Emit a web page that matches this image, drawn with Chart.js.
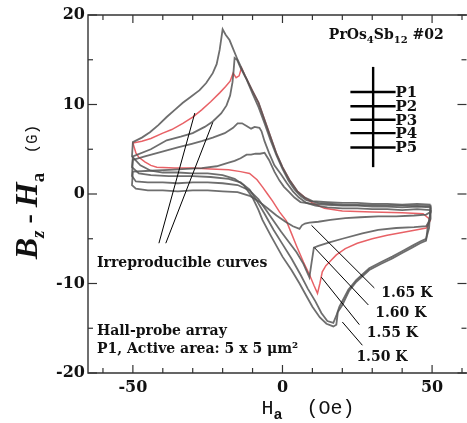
<!DOCTYPE html>
<html>
<head>
<meta charset="utf-8">
<script src="https://cdn.jsdelivr.net/npm/chart.js@4.4.0/dist/chart.umd.min.js"></script>
<style>
html, body { margin: 0; padding: 0; background: #fff; }
.chart-container { position: relative; width: 467px; height: 423px; }
</style>
</head>
<body>
<div class="chart-container"><canvas id="hallChart"></canvas></div>
<script>
// Hall-probe signal loops, [Ha (Oe), Bz - Ha (G)]
const loop150 = [
  [49.5,-1.2],[45,-1.1],[40,-1.2],[35,-1.1],[30,-1.1],[25,-1.0],[20,-1.0],[15,-0.9],[10,-0.8],
  [7.5,-0.4],[5,0.3],[2.3,1.6],[0,3.0],[-2,4.5],[-4,6.4],[-6,8.3],[-8,10.2],[-10,11.5],
  [-12.5,13.2],[-15,15.0],[-17.7,17.2],[-19,17.8],[-20,18.4],[-21,16.1],[-22,14.5],[-23.3,13.5],
  [-25.5,12.4],[-27.7,11.6],[-30.5,10.9],[-33.3,10.2],[-36,9.4],[-38.7,8.6],[-41.5,7.7],
  [-44.3,6.9],[-47,6.3],[-50,5.8],[-50.3,4.2],[-47.5,3.2],[-44,2.6],[-40,2.4],[-35,2.4],
  [-30,2.3],[-25,2.3],[-20,2.1],[-16,1.7],[-13,1.0],[-10,-0.4],[-8,-1.8],[-6.7,-2.9],
  [-4,-4.6],[-2,-5.8],[0,-7.0],[3,-8.5],[5.7,-10.0],[8,-11.4],[10,-12.6],[12.5,-13.8],
  [14.7,-14.5],[17,-14.8],[18,-14.6],[18.5,-13.2],[20,-12.4],[22.3,-10.8],[24.7,-9.8],
  [29,-8.5],[33,-7.8],[36.7,-7.2],[40,-6.6],[43.3,-6.0],[46,-5.5],[48,-5.2],[48.5,-3.8],
  [49.5,-2.0],[49.5,-1.2]
];
const loop155 = [
  [49.5,-2.9],[47,-2.2],[40,-2.1],[30,-2.0],[20,-1.9],[14,-1.6],[10,-1.0],[7.5,-0.4],
  [5,0.3],[2.3,1.6],[0,3.0],[-2,4.5],[-4,6.4],[-6,8.3],[-8,10.2],[-10,11.5],[-12.5,13.2],
  [-13.7,14.1],[-14.5,13.2],[-15.5,13.0],[-16.5,13.5],[-17.5,12.6],[-19,12.0],[-21,11.3],
  [-24,10.3],[-27,9.4],[-30,8.6],[-33.3,7.9],[-37,7.2],[-40,6.8],[-44,6.2],[-47,5.9],
  [-50,5.7],[-49,4.6],[-48,4.1],[-46,3.6],[-44,3.2],[-42,3.0],[-36,2.9],[-30,2.9],
  [-24,2.8],[-18,2.7],[-14,2.5],[-11,2.3],[-8.5,1.6],[-6.7,0.8],[-5,0.0],[-3.3,-0.8],
  [-1,-2.0],[1.3,-3.0],[3,-4.4],[4.7,-5.8],[7,-7.6],[9,-9.0],[10.5,-10.2],[11.7,-11.1],
  [12.5,-10.0],[13.3,-8.7],[14.5,-8.0],[15.7,-7.6],[18,-6.8],[21,-6.1],[25,-5.5],[30,-5.0],
  [35,-4.6],[40,-4.3],[45,-4.0],[48,-3.8],[49.5,-2.9]
];
const loop160 = [
  [49.5,-1.8],[45,-1.7],[40,-1.8],[35,-1.7],[30,-1.7],[25,-1.6],[20,-1.6],[15,-1.5],
  [11,-1.3],[8,-1.0],[5.5,-0.4],[3.5,0.3],[1.5,1.2],[-0.5,2.2],[-2.7,3.2],[-4.5,4.6],
  [-6,5.9],[-7,7.0],[-7.7,7.4],[-9.3,7.5],[-10.5,7.3],[-12,7.6],[-13.5,7.9],[-15,7.9],
  [-16.5,7.4],[-19.3,6.8],[-23.3,6.3],[-27,5.9],[-30.3,5.6],[-35,5.2],[-41.7,4.6],
  [-46,4.2],[-50,3.8],[-50.3,2.0],[-49,1.4],[-45,1.3],[-40,1.3],[-35,1.2],[-30,1.3],
  [-25,1.3],[-20,1.2],[-15,1.0],[-11,0.4],[-8,-0.6],[-5.5,-1.8],[-3,-3.0],[-0.5,-4.2],
  [2,-5.3],[4.7,-6.5],[7,-7.8],[9,-9.3],[9.8,-7.5],[10.5,-6.0],[12,-5.8],[15.7,-5.4],
  [20,-5.0],[26.7,-4.4],[32,-4.0],[38,-3.8],[44,-3.7],[48,-3.6],[49.5,-2.8],[49.5,-1.8]
];
const loop165 = [
  [49.5,-1.5],[45,-1.4],[40,-1.5],[35,-1.4],[30,-1.4],[25,-1.3],[20,-1.3],[15,-1.2],
  [10,-1.1],[6,-0.9],[4,-0.4],[2,0.3],[0.5,0.8],[-1,1.5],[-2.7,2.5],[-4.5,3.8],[-6,4.6],
  [-7.5,4.5],[-9,4.5],[-10.5,4.4],[-12,4.4],[-14,4.0],[-16,3.7],[-18,3.5],[-22,3.1],
  [-27,2.9],[-32,2.8],[-38,2.7],[-44,2.6],[-50,2.5],[-50.3,1.0],[-49,0.6],[-45,0.4],
  [-40,0.4],[-35,0.3],[-30,0.4],[-25,0.4],[-20,0.3],[-15,0.2],[-11,-0.2],[-8,-0.8],
  [-5,-1.6],[-2,-2.4],[1,-3.1],[3.5,-3.6],[5.7,-3.9],[6.5,-3.5],[7.5,-3.3],[9,-3.2],
  [12,-3.1],[16,-2.9],[21,-2.7],[26,-2.6],[32,-2.5],[38,-2.5],[44,-2.4],[48,-2.3],
  [49.5,-2.0],[49.5,-1.5]
];
// second run that did not reproduce
const loopIrr = [
  [49.5,-1.35],[40,-1.3],[30,-1.25],[20,-1.2],[12,-1.0],[8,-0.7],[6,-0.2],[4,0.5],[2,1.5],
  [0,2.8],[-2,4.3],[-4,6.0],[-6,7.9],[-8,9.7],[-10,11.2],[-12,12.8],[-14,14.1],[-15.2,15.0],
  [-16,15.2],[-16.4,13.5],[-16.7,12.5],[-17.5,11.0],[-18.7,9.9],[-20.5,9.0],[-23.3,8.1],
  [-26,7.5],[-30,6.8],[-34,6.4],[-38.7,6.0],[-44,5.0],[-50,4.2],[-50.3,3.0],[-48,2.3],
  [-44,2.1],[-38,2.0],[-30,2.0],[-24,1.9],[-18,1.7],[-14,1.3],[-11,0.5],[-8.5,-0.8],
  [-6,-2.2],[-3,-4.0],[0,-5.6],[3,-7.2],[6,-9.0],[8.5,-10.6],[11,-12.0],[13,-13.3],
  [15,-14.2],[17,-14.4],[18,-13.6],[19,-12.6],[22,-10.7],[24.7,-9.6],[29,-8.3],[33,-7.6],
  [36.7,-7.0],[40,-6.4],[43.3,-5.8],[46,-5.3],[48,-5.0],[49,-3.8],[49.5,-1.35]
];

const yTicks = [-20, -10, 0, 10, 20];
const xTicks = [-50, 0, 50];

const toXY = arr => arr.map(p => ({ x: p[0], y: p[1] }));

const gray = 'rgba(85,85,85,0.85)';
const red = 'rgba(230,80,85,0.9)';

function seg(ctx, x1, y1, x2, y2) {
  ctx.beginPath(); ctx.moveTo(x1, y1); ctx.lineTo(x2, y2); ctx.stroke();
}

// draws a run of text pieces (with sub/superscripts) starting at x
function richText(ctx, pieces, x, y) {
  pieces.forEach(p => {
    ctx.font = p.font;
    ctx.fillText(p.t, x, y + (p.dy || 0));
    x += ctx.measureText(p.t).width;
  });
  return x;
}
function richWidth(ctx, pieces) {
  let w = 0;
  pieces.forEach(p => { ctx.font = p.font; w += ctx.measureText(p.t).width; });
  return w;
}

const annotations = {
  id: 'annotations',
  afterDraw(chart) {
    const { ctx, chartArea: a, scales: { x, y } } = chart;
    const X = v => x.getPixelForValue(v), Y = v => y.getPixelForValue(v);
    ctx.save();

    // frame (right edge falls off the page) and inward ticks
    ctx.strokeStyle = '#333';
    ctx.lineWidth = 1.4;
    ctx.beginPath();
    ctx.moveTo(a.right + 2, a.top);
    ctx.lineTo(a.left, a.top);
    ctx.lineTo(a.left, a.bottom);
    ctx.lineTo(a.right + 2, a.bottom);
    ctx.stroke();
    ctx.lineWidth = 1.2;
    x.ticks.forEach(t => {
      const p = X(t.value), L = xTicks.includes(t.value) ? 8 : 5;
      seg(ctx, p, a.bottom, p, a.bottom - L);
      seg(ctx, p, a.top, p, a.top + L);
    });
    y.ticks.forEach(t => {
      const p = Y(t.value), L = yTicks.includes(t.value) ? 9 : 5;
      seg(ctx, a.left, p, a.left + L, p);
      seg(ctx, a.right, p, a.right - L, p);
    });

    // axis titles
    ctx.fillStyle = '#111';
    ctx.textBaseline = 'alphabetic';
    const yTitle = [
      { t: 'B', font: 'italic bold 32px "Liberation Serif"' },
      { t: 'z', font: 'italic bold 19px "Liberation Serif"', dy: 7 },
      { t: ' - ', font: 'bold 28px "Liberation Serif"' },
      { t: 'H', font: 'italic bold 32px "Liberation Serif"' },
      { t: 'a', font: 'bold 19px "Liberation Serif"', dy: 7 },
      { t: '  (G)', font: '16px "Liberation Mono"' }
    ];
    ctx.save();
    ctx.translate(37, 192);
    ctx.rotate(-Math.PI / 2);
    richText(ctx, yTitle, -richWidth(ctx, yTitle) / 2, 0);
    ctx.restore();

    const xTitle = [
      { t: 'H', font: '20px "Liberation Mono"' },
      { t: 'a', font: 'bold 15px "Liberation Mono"', dy: 5 },
      { t: '  (Oe)', font: '20px "Liberation Mono"' }
    ];
    richText(ctx, xTitle, 308 - richWidth(ctx, xTitle) / 2, 414);

    // sample name
    const bold = s => 'bold ' + s + 'px "DejaVu Serif"';
    richText(ctx, [
      { t: 'PrOs', font: bold(14) }, { t: '4', font: bold(10), dy: 4 },
      { t: 'Sb', font: bold(14) }, { t: '12', font: bold(10), dy: 4 },
      { t: ' #02', font: bold(14) }
    ], X(15.5), Y(17.3));

    // probe array sketch
    ctx.strokeStyle = '#000';
    ctx.lineWidth = 2.4;
    seg(ctx, X(30.3), Y(14.2), X(30.3), Y(3.0));
    const probes = ['P1', 'P2', 'P3', 'P4', 'P5'];
    const probeY = [11.4, 9.8, 8.3, 6.8, 5.2];
    ctx.font = bold(15);
    ctx.textBaseline = 'middle';
    probes.forEach((p, i) => {
      seg(ctx, X(22.7), Y(probeY[i]), X(37.8), Y(probeY[i]));
      ctx.fillText(p, X(37.8), Y(probeY[i]) + 1);
    });
    ctx.textBaseline = 'alphabetic';

    // labels with leader lines
    ctx.lineWidth = 1;
    ctx.font = bold(14);
    ctx.fillText('Irreproducible curves', X(-62), Y(-8.2));
    seg(ctx, X(-41.3), Y(-5.5), X(-29.3), Y(9.05));
    seg(ctx, X(-39), Y(-5.5), X(-23.3), Y(8.0));

    ctx.fillText('Hall-probe array', X(-62), Y(-15.7));
    ctx.fillText('P1, Active area: 5 x 5 \u03bcm\u00b2', X(-62), Y(-17.8));

    const temps = ['1.65 K', '1.60 K', '1.55 K', '1.50 K'];
    const tempAt = [[33, -11.5], [31, -13.7], [28.2, -16.0], [24.7, -18.7]];
    const leaders = [[9.7, -3.5, 30.7, -10.5], [10.7, -6.0, 28.7, -12.4],
                     [13, -9.3, 25.7, -14.6], [20, -14.3, 26.7, -16.9]];
    temps.forEach((t, i) => {
      ctx.fillText(t, X(tempAt[i][0]), Y(tempAt[i][1]));
      const l = leaders[i];
      seg(ctx, X(l[0]), Y(l[1]), X(l[2]), Y(l[3]));
    });
    ctx.restore();
  }
};

const lineSet = (label, data, color, width) => ({
  label, data: toXY(data), showLine: true, borderColor: color, borderWidth: width,
  pointRadius: 0, tension: 0, fill: false
});

const ctx = document.getElementById('hallChart').getContext('2d');
new Chart(ctx, {
  type: 'scatter',
  data: {
    datasets: [
      lineSet('1.65 K', loop165, gray, 1.8),
      lineSet('1.60 K', loop160, gray, 1.8),
      lineSet('irreproducible', loopIrr, gray, 1.8),
      lineSet('1.50 K', loop150, gray, 1.8),
      lineSet('1.55 K', loop155, red, 1.5)
    ]
  },
  options: {
    responsive: true,
    maintainAspectRatio: false,
    animation: false,
    layout: { padding: { top: 15, right: 0, bottom: 0, left: 0 } },
    plugins: { legend: { display: false }, tooltip: { enabled: false } },
    scales: {
      x: {
        type: 'linear', min: -65, max: 61.5,
        grid: { display: false, drawTicks: false },
        border: { display: false },
        ticks: {
          stepSize: 10, includeBounds: false, autoSkip: false, maxRotation: 0,
          padding: 5, color: '#111',
          font: { family: 'DejaVu Serif', weight: 'bold', size: 16 },
          callback: v => xTicks.includes(v) ? v : ''
        },
        afterFit: s => { s.height = 50; }
      },
      y: {
        type: 'linear', min: -20, max: 20,
        grid: { display: false, drawTicks: false },
        border: { display: false },
        ticks: {
          stepSize: 5, includeBounds: false, padding: 3, color: '#111',
          font: { family: 'DejaVu Serif', weight: 'bold', size: 16 },
          callback: v => yTicks.includes(v) ? v : ''
        },
        afterFit: s => { s.width = 88; }
      }
    }
  },
  plugins: [annotations]
});
</script>
</body>
</html>
